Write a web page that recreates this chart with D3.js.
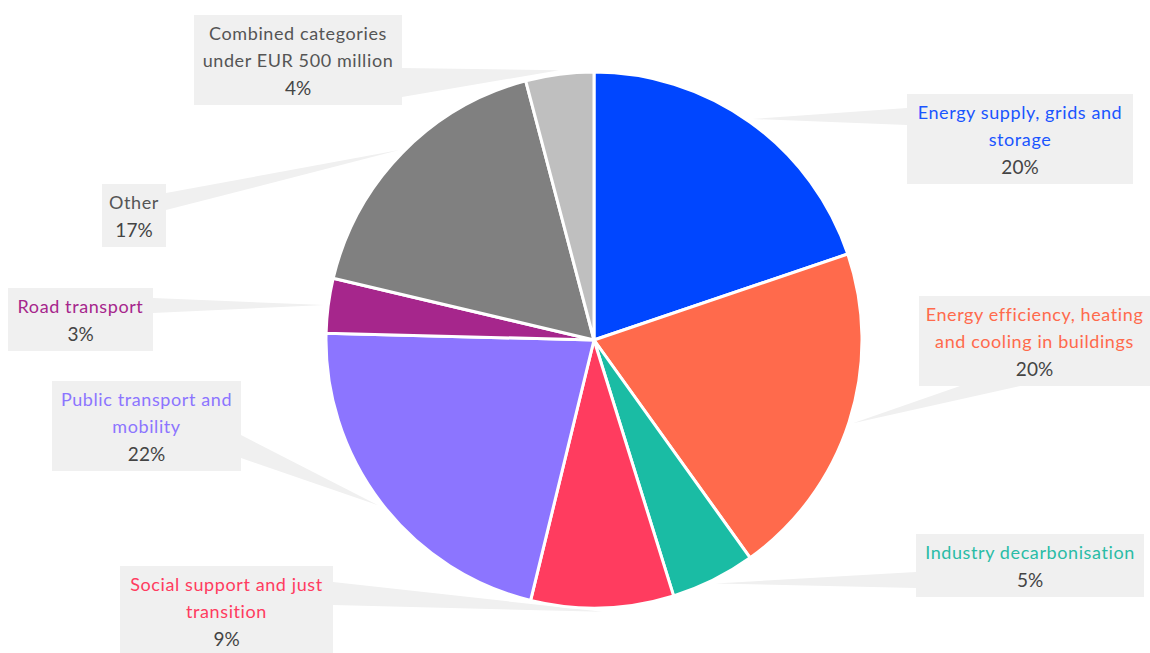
<!DOCTYPE html>
<html><head><meta charset="utf-8">
<script src="https://cdn.jsdelivr.net/npm/d3@7"></script>
<style>body{margin:0;background:#fff;}svg{display:block;}</style>
</head><body>
<svg id="chart" width="1150" height="653"></svg>
<script>
// Data
const categories = [
  ["Energy supply, grids and", "storage"],
  ["Energy efficiency, heating", "and cooling in buildings"],
  ["Industry decarbonisation"],
  ["Social support and just", "transition"],
  ["Public transport and", "mobility"],
  ["Road transport"],
  ["Other"],
  ["Combined categories", "under EUR 500 million"]
];
const shares = [19.8, 20.3, 5.1, 8.6, 21.6, 3.3, 17.2, 4.1];
const sliceColors = ["#0046ff", "#ff6a4c", "#1abca4", "#ff3c5f", "#8c75ff", "#a6268c", "#808080", "#bfbfbf"];
const labelColors = ["#1a55ff", "#ff6a4c", "#2abca6", "#ff3c5f", "#8c75ff", "#a6268c", "#555555", "#555555"];

// Layout of label boxes: [x, y, width], plus callout base (side, from, to)
const boxes = [
  {x: 907, y: 94,  w: 226, side: "left",   a: 108, b: 125},
  {x: 919, y: 296, w: 231, side: "bottom", a: 960, b: 1020},
  {x: 916, y: 534, w: 228, side: "left",   a: 572, b: 588},
  {x: 120, y: 566, w: 213, side: "right",  a: 582, b: 605},
  {x: 52,  y: 381, w: 189, side: "right",  a: 435, b: 458},
  {x: 8,   y: 288, w: 145, side: "right",  a: 298, b: 313},
  {x: 102, y: 184, w: 64,  side: "right",  a: 193, b: 210},
  {x: 194, y: 15,  w: 208, side: "right",  a: 68,  b: 97}
];

const svg = d3.select("#chart");
const cx = 594, cy = 340, R = 268;
const lineH = 27;

const pie = d3.pie().sort(null).value(d => d)(shares);
const arc = d3.arc().innerRadius(0).outerRadius(R);
const tipArc = d3.arc().innerRadius(R + 4).outerRadius(R + 4);

const g = svg.append("g").attr("transform", `translate(${cx},${cy})`);

// callout wedges (beneath pie)
const calloutG = svg.append("g");
pie.forEach((d, i) => {
  const bx = boxes[i];
  const nLines = categories[i].length + 1;
  const h = nLines * lineH + 9;
  const c = tipArc.centroid(d);
  const tip = [cx + c[0], cy + c[1]];
  let p1, p2;
  if (bx.side === "left") { p1 = [bx.x, bx.a]; p2 = [bx.x, bx.b]; }
  else if (bx.side === "right") { p1 = [bx.x + bx.w, bx.a]; p2 = [bx.x + bx.w, bx.b]; }
  else if (bx.side === "bottom") { p1 = [bx.a, bx.y + h]; p2 = [bx.b, bx.y + h]; }
  else { p1 = [bx.a, bx.y]; p2 = [bx.b, bx.y]; }
  calloutG.append("path")
    .attr("d", d3.line()([p1, tip, p2]) + "Z")
    .attr("fill", "#f0f0f0");
});

svg.node().appendChild(g.node());

g.selectAll("path.slice").data(pie).join("path")
  .attr("class", "slice")
  .attr("d", arc)
  .attr("fill", (d, i) => sliceColors[i])
  .attr("stroke", "#fff")
  .attr("stroke-width", 3)
  .attr("stroke-linejoin", "round");

// label boxes
const fmt = v => Math.round(v) + "%";
const labelG = svg.append("g");
pie.forEach((d, i) => {
  const bx = boxes[i];
  const lines = categories[i];
  const h = (lines.length + 1) * lineH + 9;
  labelG.append("rect").attr("x", bx.x).attr("y", bx.y).attr("width", bx.w).attr("height", h).attr("fill", "#f0f0f0");
  const tx = bx.x + bx.w / 2;
  lines.forEach((t, j) => {
    labelG.append("text").attr("x", tx).attr("y", bx.y + 18 + j * lineH)
      .attr("text-anchor", "middle").attr("dominant-baseline", "central")
      .attr("font-family", "Lato, 'Open Sans', sans-serif").attr("font-size", 18)
      .attr("letter-spacing", "0.6px")
      .attr("fill", labelColors[i]).text(t);
  });
  labelG.append("text").attr("x", tx).attr("y", bx.y + 18 + lines.length * lineH)
    .attr("text-anchor", "middle").attr("dominant-baseline", "central")
    .attr("font-family", "Lato, 'Open Sans', sans-serif").attr("font-size", 19)
    .attr("fill", "#444").text(fmt(shares[i]));
});
</script>
</body></html>
